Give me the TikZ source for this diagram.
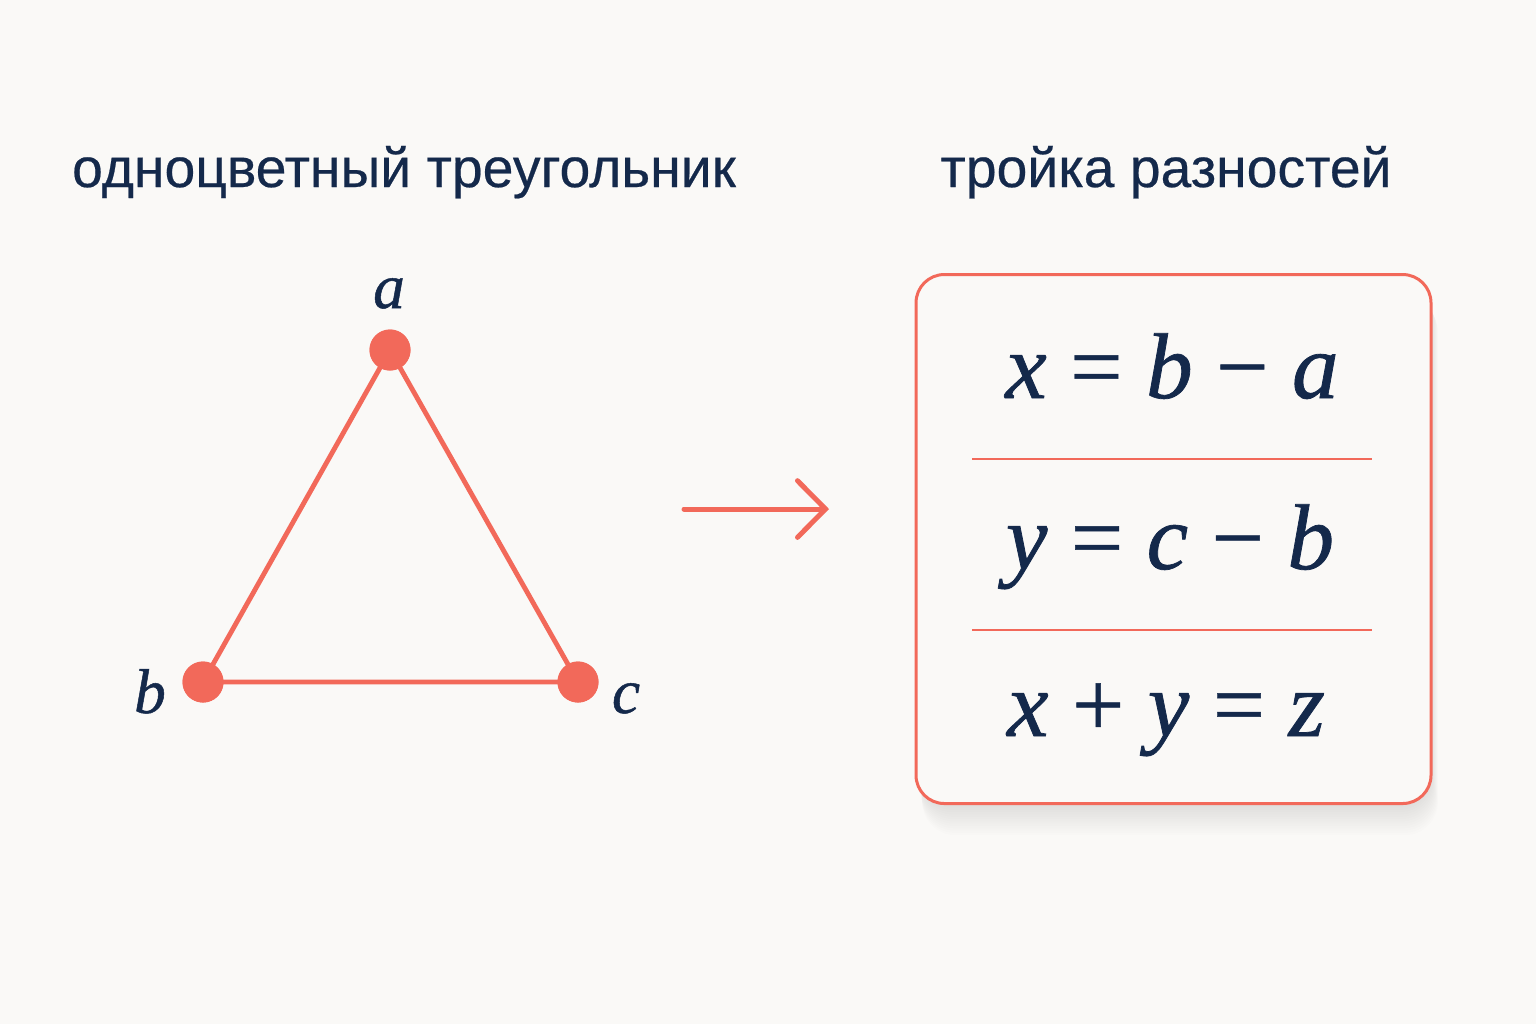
\documentclass[tikz,border=0pt]{standalone}
\usepackage{fontspec}
\setmainfont{Liberation Sans}[FakeBold=0.4]
\newfontface\eqit{Liberation Serif Italic}[FakeBold=0.8]
\newfontface\equp{Liberation Serif}[FakeBold=0.5]
\usepackage{xcolor}
\usepackage{tikz}
\usetikzlibrary{positioning,calc,arrows.meta}

\definecolor{bgcol}{HTML}{FAF9F7}
\definecolor{coral}{HTML}{F2695A}
\definecolor{navy}{HTML}{14294B}

% italic letter in the formula font
\newcommand{\ve}[1]{{\eqit #1}}

\tikzset{
    title/.style={text=navy, font=\fontsize{16.6}{19}\selectfont, anchor=base},
    dot/.style={circle, fill=coral, inner sep=0pt, minimum size=12.3pt},
    edge/.style={coral, line width=1.45pt},
    vlabel/.style={text=navy, font=\fontsize{19}{21}\equp, anchor=base},
    eqn/.style={text=navy, font=\fontsize{28}{30}\equp, anchor=base},
    sep/.style={coral, line width=0.35pt},
}

\begin{document}
\begin{tikzpicture}[x=0.3pt, y=-0.3pt]
    \fill[bgcol] (0,0) rectangle (1536,1024);
    \useasboundingbox (0,0) rectangle (1536,1024);

    % Titles
    \node[title] (tleft) at (404,187) {одноцветный треугольник};
    \node[title] (tright) at (1166,187) {тройка разностей};

    % Triangle
    \node[dot] (a) at (390,350) {};
    \node[dot] (b) at (203,682) {};
    \node[dot] (c) at (578,682) {};
    \draw[edge] (a.center) -- (b.center) -- (c.center) -- cycle;
    \node[dot] at (a) {};
    \node[dot] at (b) {};
    \node[dot] at (c) {};
    \node[vlabel] (la) at (389,308) {\ve{a}};
    \node[vlabel] (lb) at (150,713) {\ve{b}};
    \node[vlabel] (lc) at (626,713) {\ve{c}};

    % Arrow
    \coordinate (arrS) at (684,509);
    \coordinate (arrE) at (829,509);
    \draw[coral, line width=1.5pt, line cap=round,
          -{Straight Barb[length=8.4pt, width=17pt, line cap=round]}] (arrS) -- (arrE);

    % Box with soft shadow
    \foreach \i in {1,...,14}
        \fill[black, opacity=0.009, rounded corners=10pt]
            (918+\i*0.3,282+\i*1.2) rectangle (1431+\i*0.5,803+\i*2.3);
    \node[draw=coral, fill=bgcol, line width=0.9pt, rounded corners=8.5pt,
          minimum width=154.5pt, minimum height=158.7pt] (box) at (1173.5,539) {};

    % Separators
    \coordinate (s1L) at (972,459);
    \coordinate (s1R) at (1372,459);
    \coordinate (s2L) at (972,630);
    \coordinate (s2R) at (1372,630);
    \draw[sep] (s1L) -- (s1R);
    \draw[sep] (s2L) -- (s2R);

    % Equations
    \node[eqn] (eq1) at (1172,398) {\ve{x} = \ve{b} − \ve{a}};
    \node[eqn] (eq2) at (1170,569) {\ve{y} = \ve{c} − \ve{b}};
    \node[eqn] (eq3) at (1166,736) {\ve{x} + \ve{y} = \ve{z}};
\end{tikzpicture}
\end{document}
